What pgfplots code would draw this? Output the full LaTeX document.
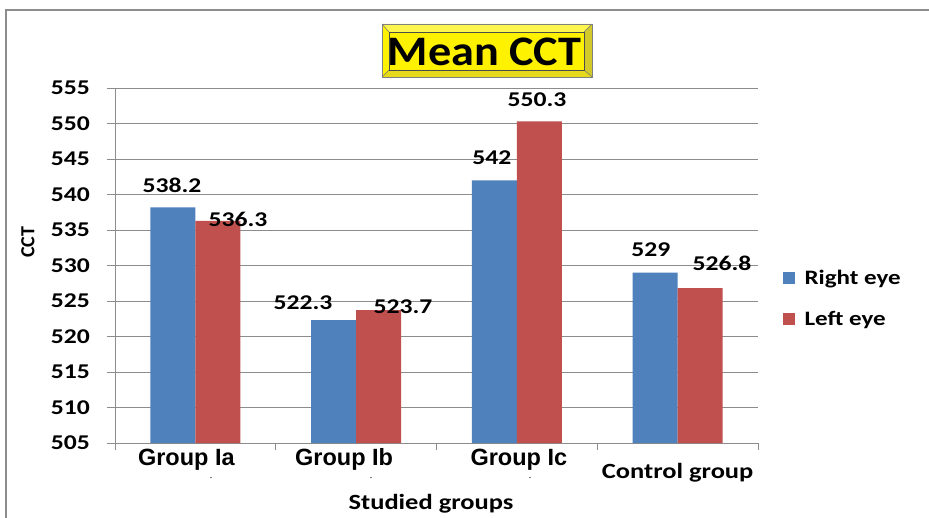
\documentclass[border=0pt]{standalone}
\usepackage{pgfplots}
\pgfplotsset{compat=1.18}
\usepackage{graphicx}
\usepackage{fontspec}
\setmainfont{Carlito}
\newfontfamily\lsans{Liberation Sans}
\newcommand\cb[3][1.22]{\scalebox{#1}[1]{\fontsize{#2}{#2}\selectfont\bfseries #3}}
\newcommand\grp[2]{\lsans\bfseries\fontsize{23.5}{23.5}\selectfont\hspace*{#1}#2}
\definecolor{barB}{RGB}{79,129,189}
\definecolor{barR}{RGB}{192,80,77}
\definecolor{gridc}{RGB}{140,140,140}
\begin{document}
\begin{tikzpicture}[x=1pt,y=1pt]
\clip (0,0) rectangle (929,517);
\fill[white] (0,0) rectangle (929,517);
\draw[gray!90, line width=2] (6,-10) rectangle (945,507);
% title box
\fill[yellow] (382,440) rectangle (592,493);
\fill[yellow!88!black] (382,440) -- (592,440) -- (584,447) -- (389,447) -- cycle;
\fill[yellow!80!black] (592,440) -- (592,493) -- (584,485) -- (584,447) -- cycle;
\fill[yellow!70!white] (382,493) -- (592,493) -- (584,485) -- (389,485) -- cycle;
\draw[black!55, line width=0.5] (382,440) -- (389,447) (592,440) -- (584,447) (382,493) -- (389,485) (592,493) -- (584,485);
\draw[black!50, line width=0.6] (382,440) rectangle (592,493);
\draw[black!70, line width=0.6] (389,447) rectangle (584,485);
\node[inner sep=0pt] at (484.5,465.5) {\cb[1.1]{42}{Mean CCT}};
\begin{axis}[
  at={(115pt,74pt)}, anchor=south west,
  scale only axis, width=643pt, height=355pt,
  xmin=-0.5, xmax=3.5, ymin=505, ymax=555,
  ytick={505,510,...,555},
  yticklabel={\cb{21}{\pgfmathprintnumber[assume math mode=true]{\tick}}},
  yticklabel style={anchor=east, inner sep=0pt, xshift=-17pt},
  xtick={0,1,2,3},
  xticklabels={{\grp{-18pt}{Group Ia}},
               {\grp{-24pt}{Group Ib}},
               {\grp{4pt}{Group Ic}},
               {\raisebox{-13pt}{\cb{21.7}{Control group}}}},
  xticklabel style={anchor=base, inner sep=0pt, yshift=-14pt},
  minor xtick={-0.5,0.5,1.5,2.5,3.5},
  axis x line*=bottom, axis y line*=left,
  axis line style={gridc, line width=0.8pt, -},
  tick align=outside,
  major tick length=8pt, minor tick length=7pt,
  x tick style={draw=none}, minor x tick style={draw=gridc, line width=0.8pt},
  y tick style={gridc, line width=0.8pt},
  ymajorgrids, grid style={gridc, line width=0.8pt},
  legend style={at={(axis description cs:1.038,0.493)}, anchor=north west,
    draw=none, fill=none, inner sep=0pt, row sep=21pt,
    nodes={inner sep=2pt}},
  legend cell align=left,
]
\addplot[ybar, bar width=0.28, bar shift=-0.14, fill=barB, draw=none,
  legend image code/.code={\fill[barB] (0pt,-6pt) rectangle (12pt,6pt);}]
  coordinates {(0,538.2) (1,522.3) (2,542) (3,529)};
\addlegendentry{\hspace*{8pt}\cb{20.5}{Right eye}}
\addplot[ybar, bar width=0.28, bar shift=0.14, fill=barR, draw=none,
  legend image code/.code={\fill[barR] (0pt,-6pt) rectangle (12pt,6pt);}]
  coordinates {(0,536.3) (1,523.7) (2,550.3) (3,526.8)};
\addlegendentry{\hspace*{8pt}\cb{20.5}{Left eye}}
\addplot[only marks, mark=none, forget plot, point meta=explicit symbolic,
  nodes near coords={\cb{21}{\pgfplotspointmeta}},
  nodes near coords style={anchor=center, inner sep=0pt}]
  coordinates {(-0.145,541.34)[538.2] (0.265,536.55)[536.3]
               (0.670,524.72)[522.3] (1.292,524.15)[523.7]
               (1.845,545.14)[542] (2.125,553.31)[550.3]
               (2.834,532.18)[529] (3.276,530.35)[526.8]};
\end{axis}
\node[inner sep=0pt, anchor=base] at (431,8) {\cb{21.7}{Studied groups}};
\node[inner sep=0pt, rotate=90] at (28,275) {\cb[1]{20}{CCT}};
\foreach \xx in {211,371,530} \node[inner sep=0pt] at (\xx,38) {\fontsize{8}{8}\selectfont -};
\end{tikzpicture}
\end{document}
